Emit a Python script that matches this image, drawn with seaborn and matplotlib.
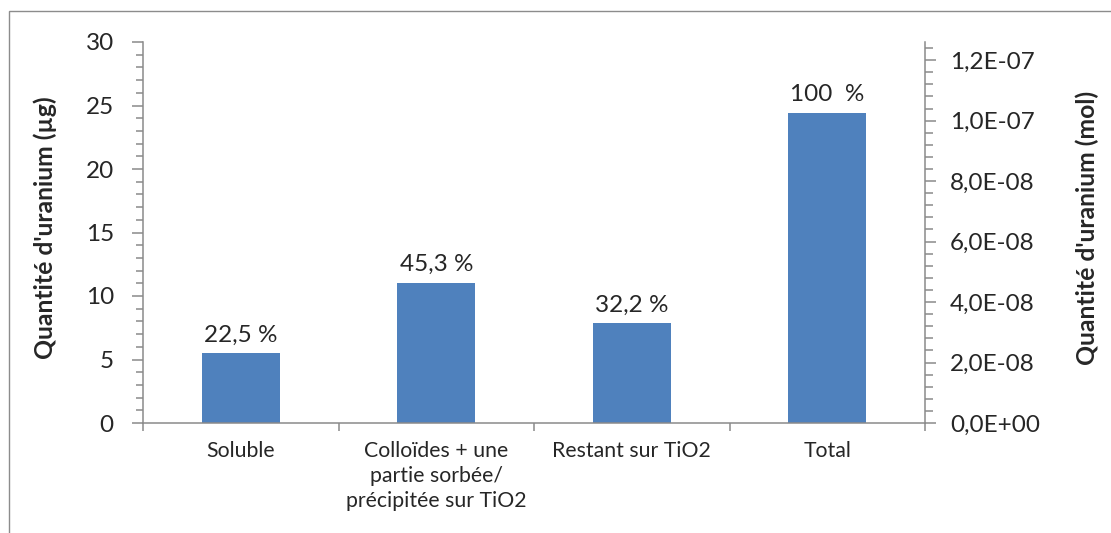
import matplotlib
matplotlib.use("Agg")
import matplotlib.pyplot as plt
from matplotlib.ticker import MultipleLocator, FixedLocator, FuncFormatter
from matplotlib.patches import Rectangle
import seaborn as sns

# Uranium distribution between fractions
categories = [
    "Soluble",
    "Colloïdes + une\npartie sorbée/\nprécipitée sur TiO2",
    "Restant sur TiO2",
    "Total",
]
mass_ug = [5.49, 11.05, 7.86, 24.4]
percent_labels = ["22,5 %", "45,3 %", "32,2 %", "100  %"]
left_ticks = [0, 5, 10, 15, 20, 25, 30]
right_ticks = [0.0, 2e-8, 4e-8, 6e-8, 8e-8, 1.0e-7, 1.2e-7]

sns.set_style("white")
plt.rcParams["font.family"] = ["Lato", "DejaVu Sans"]

W, H = 1111, 533
fig = plt.figure(figsize=(W / 100, H / 100), dpi=100)
fig.patch.set_facecolor("white")

# chart border
fig.patches.append(Rectangle((9 / W, -0.1), 1.2, (H - 11) / H + 0.1,
                             transform=fig.transFigure, fill=False,
                             edgecolor="#8c8c8c", linewidth=1.0))

ax = fig.add_axes([143 / W, (H - 423) / H, (925 - 143) / W, (423 - 42) / H])
axis_col = "#8a8a8a"
tick_fs = 17.5
title_fs = 17.8

sns.barplot(x=categories, y=mass_ug, color="#4F81BD", saturation=1,
            width=0.4, ax=ax, edgecolor="none")

ax.set_xlim(-0.5, 3.5)
ax.set_ylim(0, 30)
ax.yaxis.set_major_locator(FixedLocator(left_ticks))
ax.yaxis.set_minor_locator(MultipleLocator(1))
ax.set_xticks(range(len(categories)))
ax.set_xticklabels(categories, fontsize=15.3, linespacing=1.3, va="top")
ax.set_xticks([-0.5, 0.5, 1.5, 2.5, 3.5], minor=True)
ax.tick_params(axis="x", which="major", length=0, pad=13)
ax.tick_params(axis="x", which="minor", length=6, width=1.1, color=axis_col,
               direction="out")
ax.tick_params(axis="y", which="major", length=8, width=1.1, color=axis_col,
               labelsize=tick_fs, pad=13, direction="out")
ax.tick_params(axis="y", which="minor", length=5, width=1.1, color=axis_col,
               direction="out")
ax.yaxis.set_ticks_position("left")
ax.xaxis.set_ticks_position("bottom")
ax.set_ylabel("Quantité d'uranium (µg)", fontsize=title_fs, fontweight="bold",
              va="center", ha="center")
ax.yaxis.set_label_coords((45 - 143) / 782, 0.513)

for side in ("top", "right"):
    ax.spines[side].set_visible(False)
for side in ("left", "bottom"):
    ax.spines[side].set_color(axis_col)
    ax.spines[side].set_linewidth(1.1)

for i, (m, lab) in enumerate(zip(mass_ug, percent_labels)):
    ax.annotate(lab, (i, m), xytext=(0, 5.5), textcoords="offset points",
                ha="center", va="bottom", fontsize=tick_fs)

# secondary axis in moles
ax2 = ax.twinx()
ax2.set_ylim(0, 1.26e-7)
ax2.yaxis.set_major_locator(FixedLocator(right_ticks))
ax2.yaxis.set_minor_locator(MultipleLocator(4e-9))
ax2.yaxis.set_major_formatter(
    FuncFormatter(lambda v, p: f"{v:.1E}".replace(".", ",")))
ax2.yaxis.get_offset_text().set_visible(False)
ax2.tick_params(axis="y", which="major", length=8, width=1.1, color=axis_col,
                labelsize=tick_fs, pad=10, direction="out")
ax2.tick_params(axis="y", which="minor", length=5.5, width=1.1, color=axis_col,
                direction="out")
ax2.set_ylabel("Quantité d'uranium (mol)", fontsize=title_fs, fontweight="bold",
               va="center", ha="center", rotation=90)
ax2.yaxis.set_label_coords((1087 - 143) / 782, 0.513)
for side in ("top", "left", "bottom"):
    ax2.spines[side].set_visible(False)
ax2.spines["right"].set_color(axis_col)
ax2.spines["right"].set_linewidth(1.1)

fig.savefig("out.png", dpi=100, facecolor="white")
